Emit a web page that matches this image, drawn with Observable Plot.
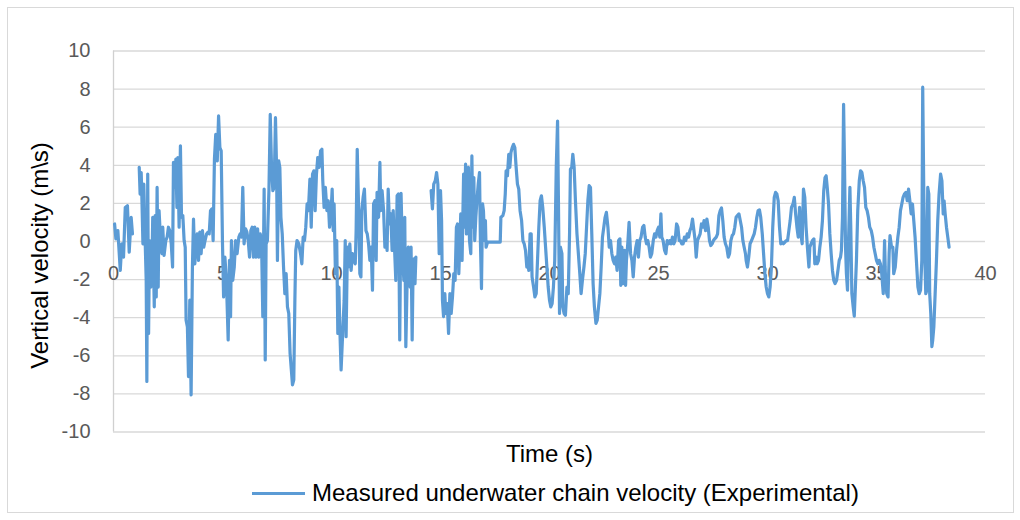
<!DOCTYPE html>
<html><head><meta charset="utf-8">
<script src="https://cdn.jsdelivr.net/npm/d3@7"></script>
<script src="https://cdn.jsdelivr.net/npm/@observablehq/plot@0.6"></script>
<style>
body{margin:0;background:#fff;}
#wrap{position:relative;width:1020px;height:520px;overflow:hidden;font-family:"Liberation Sans",Arial,sans-serif;background:#fff;}
#frame{position:absolute;left:7px;top:7px;width:1007px;height:506px;border:1px solid #d9d9d9;box-sizing:border-box;}
#chart{position:absolute;left:0;top:0;}
#legend{position:absolute;left:0;top:470px;width:1020px;height:50px;}
#legend .swatch{position:absolute;left:252px;top:21.5px;width:53px;height:3px;background:#5b9bd5;}
#legend .label{position:absolute;left:312px;top:9px;font-size:24px;line-height:28px;color:#000;white-space:nowrap;}
</style></head><body>
<div id="wrap"><div id="frame"></div><div id="chart"></div>
<div id="legend"><div class="swatch"></div><div class="label">Measured underwater chain velocity (Experimental)</div></div></div>
<script>
const xTicks = [0, 5, 10, 15, 20, 25, 30, 35, 40];
const yTicks = [-10, -8, -6, -4, -2, 0, 2, 4, 6, 8, 10];
const seriesName = "Measured underwater chain velocity (Experimental)";
const time = [
0.05,0.11,0.20,0.31,0.38,0.46,0.54,0.64,0.72,0.81,0.87,1.00,
1.18,1.22,1.27,1.30,1.35,1.39,1.45,1.50,1.53,1.57,1.61,1.65,1.71,1.76,1.80,1.87,1.91,1.96,2.00,2.05,2.09,2.16,2.22,2.26,2.32,2.40,2.46,2.52,2.58,2.65,2.71,2.75,2.81,2.86,2.91,2.95,3.01,3.07,3.12,3.18,3.24,3.29,3.33,3.39,3.44,3.50,3.56,3.62,3.67,3.73,3.78,3.84,3.90,3.96,4.02,4.08,4.14,4.20,4.27,4.33,4.39,4.45,4.51,4.57,4.63,4.69,4.76,4.82,4.88,4.94,5.00,5.05,5.11,
5.18,5.26,5.32,5.37,5.41,5.47,5.54,5.60,5.67,5.75,5.81,5.87,5.93,5.99,6.06,6.12,6.18,6.24,6.30,6.36,6.42,6.48,6.54,6.61,6.67,6.73,6.79,6.85,6.91,6.96,7.00,7.06,7.13,7.19,7.25,7.31,7.37,7.43,7.48,7.52,7.58,7.63,7.68,7.74,7.80,7.86,7.92,7.98,8.04,8.10,8.17,8.21,8.27,8.32,8.36,8.42,8.50,8.58,8.64,8.70,8.76,8.82,8.88,8.94,9.01,9.07,9.13,9.19,9.25,9.31,9.37,9.43,9.50,9.56,9.60,9.66,9.72,9.79,9.85,9.91,9.97,10.03,10.08,10.12,10.18,10.24,10.29,10.34,10.38,10.44,
10.58,10.63,10.67,10.73,10.78,10.84,10.90,10.96,11.02,11.09,11.13,11.18,11.24,11.30,11.35,11.39,11.45,11.51,11.58,11.64,11.70,11.76,11.82,11.88,11.93,11.99,12.05,12.09,12.16,12.22,12.26,12.32,12.39,12.45,12.51,12.55,12.60,12.66,12.72,12.78,12.83,12.89,12.95,13.01,13.07,13.13,13.19,13.26,13.32,13.36,13.41,13.47,13.52,13.56,13.61,13.65,13.70,13.74,13.79,13.83,13.87,14.20,
14.57,14.63,14.69,14.76,14.82,14.88,14.94,15.00,15.05,15.09,15.14,15.20,15.24,15.31,15.37,15.43,15.49,15.55,15.61,15.67,15.73,15.78,15.84,
15.93,15.99,16.06,16.10,16.15,16.19,16.24,16.28,16.33,16.39,16.44,16.48,16.53,16.57,16.62,16.67,16.73,16.79,16.83,16.88,16.93,16.97,17.02,17.06,17.09,17.16,17.74,17.77,17.86,17.92,17.97,18.01,18.07,18.13,18.18,18.23,18.29,18.35,18.41,18.47,18.53,18.59,18.65,18.72,18.78,18.84,18.90,18.96,19.00,19.05,19.11,19.16,19.20,19.27,19.33,19.39,19.45,19.51,19.57,19.63,19.69,19.76,19.82,19.88,19.94,20.00,20.06,20.12,20.18,20.24,20.31,20.37,20.41,20.46,20.50,20.57,20.61,20.67,20.73,20.80,20.86,20.92,20.96,21.02,21.07,21.13,21.19,21.26,
21.39,21.45,21.51,21.58,21.64,21.70,21.76,21.82,21.88,21.94,22.00,22.06,22.13,22.19,22.25,22.31,22.37,22.43,22.49,22.55,22.61,22.68,22.74,22.80,22.86,22.92,22.98,23.04,23.10,23.17,23.23,23.27,23.32,23.38,23.44,23.49,23.53,23.59,23.65,23.72,23.78,23.84,23.90,23.96,24.02,24.08,24.14,24.20,24.27,24.33,24.39,24.45,24.51,24.57,24.63,24.69,24.76,24.82,24.88,24.94,25.00,25.06,25.11,25.15,25.21,25.28,25.34,25.40,25.46,25.52,25.58,25.64,25.70,25.76,25.83,25.89,25.95,26.01,26.07,26.13,26.19,26.25,26.32,26.38,26.44,26.50,26.56,
26.68,26.73,26.79,26.85,26.91,26.97,27.03,27.09,27.16,27.22,27.28,27.34,27.40,27.46,27.52,27.58,27.65,27.71,27.77,27.83,27.89,27.95,28.01,28.07,28.13,28.20,28.26,28.32,28.38,28.44,28.50,28.56,28.62,28.69,28.75,28.81,28.87,28.93,28.99,29.02,29.08,29.14,29.20,29.27,29.33,29.39,29.45,29.51,29.57,29.63,29.69,29.76,29.82,29.88,29.94,30.00,30.06,30.12,30.18,30.24,30.31,30.37,30.43,30.49,30.55,30.61,30.67,30.73,30.80,30.86,30.92,30.98,31.04,31.10,31.17,31.23,31.29,31.35,31.41,31.47,31.53,31.59,31.65,31.71,31.77,31.83,31.90,
31.94,32.00,32.06,32.13,32.17,32.23,32.28,32.34,32.40,32.46,32.52,32.58,32.64,32.69,32.74,32.80,32.86,32.92,32.98,33.04,33.10,33.17,33.23,33.29,33.35,33.39,33.44,33.49,33.53,33.58,33.62,33.67,33.71,33.78,33.82,33.87,33.93,33.98,34.02,34.08,34.14,34.21,34.27,34.33,34.39,34.45,34.51,34.57,34.63,34.69,34.76,34.82,34.88,34.94,35.00,35.06,35.12,35.18,35.24,35.31,35.37,35.41,35.47,35.53,35.58,35.62,35.69,35.75,35.79,35.86,35.92,35.98,36.04,36.10,36.16,36.22,36.28,36.35,36.41,36.47,36.53,36.59,36.65,36.71,36.77,36.83,36.90,36.96,37.02,37.08,37.12,37.17,37.22,37.26,37.31,37.35,37.40,37.44,37.49,37.54,37.58,37.63,37.69,37.75,37.81,37.87,37.94,38.00,38.06,38.10,38.15,38.21,38.27,38.33
];
const velocity = [
0.92,0.14,0.57,-1.52,-0.12,-0.82,1.79,1.88,-0.56,1.27,0.40,null,
3.89,2.49,3.62,2.40,-0.12,3.01,0.14,-2.04,-7.35,3.54,-4.83,0.05,-2.39,-1.52,1.27,-3.43,1.36,-2.91,2.84,-2.39,1.62,0.05,-0.64,0.75,-0.73,0.05,0.23,0.75,0.57,-0.12,-1.34,4.15,2.84,4.32,1.79,4.41,0.75,5.02,1.27,1.36,0.05,-0.30,-4.13,-4.48,-7.09,-3.08,-8.05,-1.34,1.18,-1.17,-0.30,0.40,-0.99,0.49,-0.64,0.57,-0.30,0.05,0.40,0.49,0.40,1.62,1.71,0.05,4.32,5.63,4.23,6.59,4.93,4.76,-0.12,-2.91,-0.82,
-2.04,-5.17,-0.99,-3.95,0.05,-2.04,-1.34,0.05,-0.64,0.23,0.40,0.23,2.84,-0.12,0.66,0.49,0.05,-0.82,0.57,0.75,-0.82,0.75,-0.82,0.66,-0.82,0.40,0.05,-3.95,2.75,-6.22,-0.12,0.05,2.67,6.67,3.89,2.67,2.84,6.50,3.89,-0.99,4.23,3.89,1.27,0.40,-1.34,-2.74,-1.69,-3.43,-3.78,-5.87,-6.92,-7.53,-7.26,-3.08,-0.47,0.05,-0.12,-0.64,-1.17,0.23,0.05,0.75,1.97,1.62,3.28,0.75,3.54,3.71,1.62,3.54,4.41,3.89,4.76,4.84,3.19,1.79,2.84,1.62,2.14,0.75,1.27,2.75,0.57,1.97,-1.69,0.05,-4.83,-2.39,-4.48,-6.74,
-3.08,0.05,-5.00,-0.30,-1.34,-0.12,-1.52,-0.64,-0.99,-1.17,0.57,4.84,1.97,-1.69,-1.86,1.62,2.32,2.75,0.57,0.40,-0.12,-0.99,-0.30,-2.56,1.97,2.14,-0.99,2.58,1.27,4.15,1.62,2.67,1.62,-0.30,0.23,-0.47,2.75,0.92,1.45,-0.47,1.62,-0.30,-2.04,2.40,2.49,-5.17,2.53,-0.82,-2.04,1.27,-5.52,-2.04,-0.30,-0.64,-2.39,-0.30,-5.17,-1.69,-0.91,-2.21,-0.82,null,
2.67,1.71,3.01,3.19,3.62,3.01,-0.64,2.67,1.10,-3.08,-3.95,-2.74,-3.78,-3.26,-4.83,-2.74,-3.78,-2.91,-1.69,-2.04,0.75,0.92,-1.69,
1.45,-0.99,3.54,0.75,4.06,0.40,2.84,3.89,0.05,-0.64,4.49,0.75,3.36,0.05,1.27,2.14,3.01,3.62,0.05,-2.47,1.97,1.62,0.05,1.10,-0.30,-0.03,-0.03,1.27,1.36,1.62,2.49,3.71,3.45,4.58,3.89,4.67,4.93,5.10,4.93,3.89,3.01,2.75,1.62,1.10,0.05,-0.12,-0.47,-1.34,-0.99,-1.52,0.40,0.40,-1.86,-2.39,-2.91,-2.74,-0.99,0.75,2.14,2.40,1.79,0.75,-0.30,-1.34,-2.39,-3.08,-3.43,-3.26,-2.39,-0.99,3.89,6.32,2.14,-3.78,-0.30,-0.64,-3.43,-3.78,-3.87,-2.39,-2.74,0.40,3.80,3.89,4.58,3.89,2.14,0.40,
-1.69,-2.74,-2.04,-1.34,-0.64,0.75,2.14,2.93,2.84,0.40,-2.21,-3.43,-4.30,-4.13,-3.43,-2.74,-1.34,0.23,0.75,1.27,1.53,0.75,-0.30,0.05,-0.64,-0.99,-1.17,-0.82,-1.52,0.05,0.14,-2.30,-0.30,-2.21,-0.47,-2.30,-0.99,-0.12,1.01,-0.64,-0.99,-1.86,-0.82,-0.30,0.05,-0.82,0.05,0.23,0.75,0.84,0.23,-0.12,0.05,-0.30,-0.82,-0.64,0.05,0.40,0.23,0.57,0.75,0.23,1.45,0.23,0.05,-0.47,-0.64,0.05,-0.12,0.05,-0.12,0.23,-0.12,0.05,0.92,0.75,0.05,0.05,-0.12,-0.12,0.23,0.05,0.40,0.23,0.57,0.75,1.18,
0.05,-0.82,0.05,0.23,0.40,0.92,0.75,1.10,0.57,1.18,0.75,0.05,-0.21,-0.12,0.05,0.14,0.23,0.40,1.36,1.62,1.76,1.10,0.23,-0.12,-0.30,-0.82,-0.64,0.05,0.31,0.40,0.75,1.27,1.36,1.45,1.10,0.75,0.05,-0.30,-0.64,-0.99,-1.34,-0.82,-0.12,0.05,0.23,0.40,0.75,1.27,1.62,1.66,1.27,0.40,-0.64,-1.69,-2.39,-2.74,-2.91,-2.39,-1.34,0.75,2.32,2.58,2.49,2.14,0.75,-0.12,-0.03,-0.12,-0.03,0.05,0.05,0.57,1.10,1.79,1.97,2.32,1.45,0.75,0.23,1.79,0.40,-0.12,2.75,2.32,0.75,-0.30,-1.34,
-0.30,-0.12,0.05,0.14,-1.17,-0.82,-1.17,-0.99,-0.30,0.23,1.10,2.67,3.36,3.45,2.84,1.97,0.40,-0.64,-1.52,-2.04,-2.21,-2.04,-1.52,-0.99,-0.82,-0.47,1.27,7.20,4.23,-0.30,-1.69,-2.56,-0.30,2.84,0.75,-2.74,-3.43,-3.92,-2.74,-0.99,1.62,3.19,3.71,3.62,3.19,2.84,1.79,1.62,1.27,0.75,0.57,0.23,-0.30,-0.64,-0.99,-1.17,-0.99,-1.17,-1.69,-2.74,0.05,-1.86,-2.74,-2.91,-0.64,0.31,-0.30,-0.30,-1.69,-1.34,-0.47,0.23,0.75,1.62,1.97,2.32,2.49,2.58,2.14,2.75,2.14,1.45,1.97,1.10,0.23,-0.99,-2.39,-2.74,-2.56,-0.99,8.10,2.49,-0.99,-2.74,-2.56,2.84,2.49,-2.74,-3.78,-5.52,-5.17,-4.48,-2.74,-0.99,1.10,2.49,3.54,3.19,1.45,2.14,1.45,0.75,0.23,-0.30
];

const data = time.map((t, i) => ({t, v: velocity[i] == null ? NaN : velocity[i], series: seriesName}));

const chart = Plot.plot({
  width: 1020,
  height: 470,
  marginLeft: 113,
  marginRight: 35,
  marginTop: 50.5,
  marginBottom: 38.5,
  style: {fontFamily: "'Liberation Sans', Arial, sans-serif", fontSize: "20px", background: "transparent", overflow: "visible"},
  x: {domain: [0, 40], axis: null},
  y: {domain: [-10, 10], axis: null},
  marks: [
    Plot.ruleY(yTicks, {stroke: "#d9d9d9", strokeWidth: 1.3}),
    Plot.ruleX([0], {stroke: "#d0d0d0", strokeWidth: 1.3}),
    Plot.axisY(yTicks, {tickSize: 0, tickPadding: 23, fontSize: 20, fill: "#595959", label: null, tickFormat: d => String(d)}),
    Plot.text(xTicks, {x: d => d, y: 0, text: d => String(d), dy: 32, fontSize: 20, fill: "#595959"}),
    Plot.line(data, {x: "t", y: "v", stroke: "#5b9bd5", strokeWidth: 3.2, strokeLinejoin: "round", strokeLinecap: "round"}),
    Plot.text(["Vertical velocity (m\\s)"], {frameAnchor: "left", textAnchor: "middle", dx: -73, dy: 14, rotate: -90, fontSize: 24, fill: "#000"}),
    Plot.text(["Time (s)"], {frameAnchor: "bottom", dy: 22.5, lineAnchor: "middle", fontSize: 24, fill: "#000"})
  ]
});
document.getElementById("chart").appendChild(chart);
</script>
</body></html>
